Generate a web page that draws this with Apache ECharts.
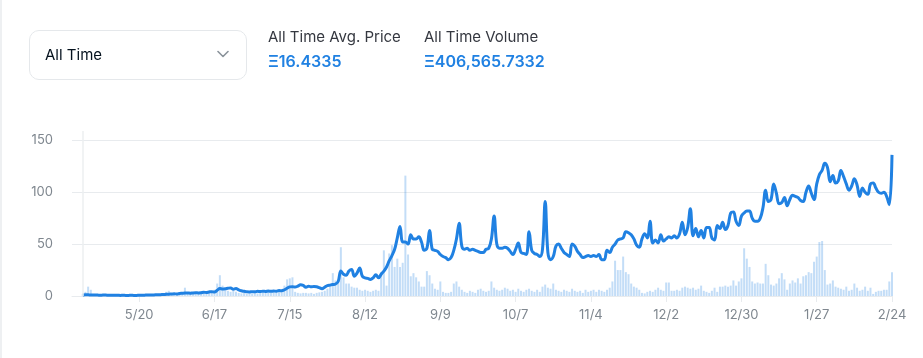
<!DOCTYPE html>
<html>
<head>
<meta charset="utf-8">
<script src="https://cdn.jsdelivr.net/npm/echarts@6/dist/echarts.min.js"></script>
<style>
  html, body { margin: 0; padding: 0; background: #fff; }
  body { width: 923px; height: 358px; position: relative; overflow: hidden; font-family: Inter, "Noto Sans", sans-serif; }
  #leftline { position: absolute; left: 0; top: 0; width: 2px; height: 358px; background: #eef0f2; }
  #chart { position: absolute; left: 0; top: 0; width: 923px; height: 358px; }
  #dropdown { position: absolute; left: 29px; top: 30px; width: 216px; height: 48px; border: 1px solid #e5e8eb; border-radius: 10px; box-sizing: content-box; }
  #dropdown span { position: absolute; left: 15px; top: 14px; font-size: 15px; color: #04111d; }
  #dropdown svg { position: absolute; left: 187px; top: 19px; }
  .stat { position: absolute; top: 27px; }
  .stat .lab { font-size: 15px; color: #353840; line-height: 20px; }
  .stat .val { font-size: 16px; font-weight: 600; color: #2081E2; line-height: 20px; margin-top: 4px; }
</style>
</head>
<body>
<div id="leftline"></div>
<div id="chart"></div>
<div id="dropdown"><span>All Time</span>
  <svg width="12" height="8" viewBox="0 0 12 8"><polyline points="1,1.5 6,6.5 11,1.5" fill="none" stroke="#8a939b" stroke-width="1.6" stroke-linecap="round" stroke-linejoin="round"/></svg>
</div>
<div class="stat" style="left:268px"><div class="lab">All Time Avg. Price</div><div class="val">Ξ16.4335</div></div>
<div class="stat" style="left:424px"><div class="lab">All Time Volume</div><div class="val">Ξ406,565.7332</div></div>
<script>
// first data day and padding days shown before it on the axis
const startDate = [2021, 4, 29];   // Apr 29
const padDays = 4;
const yTicks = [0, 50, 100, 150];

// daily average price (ETH), Apr 29 .. Feb 24
const price = [
  1.0,1.2,1.1,1.0,0.9,0.9,0.8,0.8,0.9,0.8,
  0.7,0.8,0.7,0.7,0.6,0.7,0.6,0.6,0.7,0.6,
  0.6,0.7,0.7,0.8,0.9,0.9,1.0,1.1,1.2,1.3,
  1.4,1.6,1.8,1.9,2.1,2.0,2.4,2.6,2.8,2.9,
  2.7,3.0,3.1,3.0,3.2,3.6,3.4,3.9,4.2,3.8,
  5.5,7.2,6.8,7.0,7.5,7.8,6.5,7.2,6.0,5.0,
  4.5,4.0,3.9,4.2,4.0,4.5,4.3,4.6,4.4,4.7,
  4.5,4.8,4.6,5.2,5.0,6.0,7.5,8.8,9.0,8.6,
  9.5,10.8,10.2,8.5,9.5,8.8,9.2,9.0,8.0,7.0,
  8.5,10.0,10.5,11.0,11.5,14.0,24.0,21.0,20.0,24.0,
  25.5,19.0,22.0,27.0,19.0,17.5,17.0,16.0,17.5,20.5,
  17.5,21,24,28,34,39,45,56,67,52,
  52,50,59,55,55,57,52,44,46,63,
  45,44,43,40,38,37,35,37,44,55,
  70,48,45,46,44,45,44,43,42,42,
  45,46,55,77,50,46,46,47,46,43,
  40,45,51,42,41,40,62,44,41,40,
  38,45,91,42,35,38,48,50,46,42,
  40,38,50,48,43,40,37,38,39,38,
  39,38,40,35,35,44,42,47,50,54,
  55,56,62,61,59,55,49,47,55,60,
  56,72,51,54,51,59,53,55,57,56,
  58,56,60,71,59,66,84,58,65,57,
  63,56,66,66,56,54,68,65,71,64,
  68,80,81,72,68,77,80,82,82,75,
  72,72,75,85,102,91,93,108,99,89,
  90,95,87,93,97,96,95,92,91,100,
  106,99,93,108,117,121,128,124,110,116,
  109,111,121,115,108,102,106,113,107,96,
  104,100,98,108,109,104,100,99,100,96,
  88,136
];

// daily volume (drawn on a hidden axis, in chart units)
const volume = [
  2,4,9,6,2,1.5,1,1,1.5,1,
  1,0.8,1,0.8,1,0.7,0.8,1,0.7,0.8,
  0.6,0.7,0.8,1.5,1,0.8,1.2,1,1.5,2,
  2.5,4,5,2,2.5,3,2,3,8,3,
  2.5,3,2,2.5,2,3,4,5,5,6,
  12,20,10,6,5,4,5,4,3,2.5,
  3,2,2.5,2,3,2.5,3,3.5,3,4,
  3.5,4,5,6,6,10,16,17,18,4,
  3,2.5,3,3,2.5,3,2,3,3.5,4,
  5,7,10,22,15,12,47,18,12,12,
  9,8,8,6,5,6,5,4,5,6,
  5,23,44,10,41,49,28,36,28,32,
  116,40,19,22,18,14,9,9,24,20,
  12,7,6,14,4,3,3,4,12,14,
  9,6,4,3,5,4,3,6,7,5,
  4,5,14,8,6,5,6,8,7,5,
  6,4,7,5,4,6,7,5,4,6,
  4,9,11,8,7,12,6,5,4,6,
  5,4,7,5,4,5,3,6,4,5,
  6,4,6,5,4,6,8,14,34,25,
  25,38,23,21,12,9,8,6,3,2.5,
  4,5,4,6,8,6,5,13,13,5,
  5,6,5,8,9,8,7,8,6,7,
  10,5,4,3,5,8,4,9,9,10,
  9,10,15,10,14,17,46,36,28,14,
  12,13,12,12,31,20,11,10,12,17,
  22,16,6,12,15,13,17,12,19,20,
  23,22,33,38,52,53,25,11,12,15,
  9,8,7,6,9,5,6,12,8,5,
  6,9,5,8,2,4,5,5,6,6,
  14,23
];

// build the category list (M/D), including padding days before the first point
const dates = [];
const d0 = new Date(startDate[0], startDate[1] - 1, startDate[2] - padDays);
for (let i = 0; i < price.length + padDays; i++) {
  const d = new Date(d0.getFullYear(), d0.getMonth(), d0.getDate() + i);
  dates.push((d.getMonth() + 1) + '/' + d.getDate());
}
const pad = new Array(padDays).fill(null);
const priceData = pad.concat(price);
const volData = pad.concat(volume);
const showIdx = (idx) => idx >= padDays && (idx - padDays - 21) % 28 === 0;

const chart = echarts.init(document.getElementById('chart'), null, { renderer: 'canvas' });
chart.setOption({
  animation: false,
  textStyle: { fontFamily: 'Inter, "Noto Sans", sans-serif' },
  grid: { left: 72, right: 31, top: 131, bottom: 62, containLabel: false },
  xAxis: {
    type: 'category',
    data: dates,
    boundaryGap: false,
    axisLine: { show: true, lineStyle: { color: '#e8ebee', width: 1 } },
    axisTick: { show: true, interval: (i) => showIdx(i), length: 6, lineStyle: { color: '#e8ebee' } },
    axisLabel: { interval: (i) => showIdx(i), color: '#7f878f', fontSize: 13, margin: 13 },
    splitLine: { show: false }
  },
  yAxis: [{
    type: 'value', min: 0, max: 159, interval: 50,
    axisLine: { show: false }, axisTick: { show: false },
    axisLabel: { color: '#7f878f', fontSize: 13, margin: 19,
      formatter: (v) => yTicks.indexOf(v) >= 0 ? String(v) : '' },
    splitLine: { show: true, showMaxLine: false, lineStyle: { color: '#e8ebee', width: 1 } }
  }, {
    type: 'value', min: 0, max: 159, show: false, splitLine: { show: false }
  }],
  series: [{
    type: 'bar', name: 'Volume', data: volData, yAxisIndex: 1,
    barWidth: 2, itemStyle: { color: 'rgba(32,129,226,0.27)' }, z: 1,
    markLine: { symbol: 'none', silent: true, label: { show: false },
      lineStyle: { color: '#eceff1', type: 'solid', width: 1.5 },
      data: [{ xAxis: dates[padDays] }] }
  }, {
    type: 'line', name: 'Avg Price', data: priceData,
    smooth: 0.4, showSymbol: false, connectNulls: false,
    lineStyle: { color: '#2081E2', width: 3 }, itemStyle: { color: '#2081E2' }, z: 3
  }]
});
</script>
</body>
</html>
